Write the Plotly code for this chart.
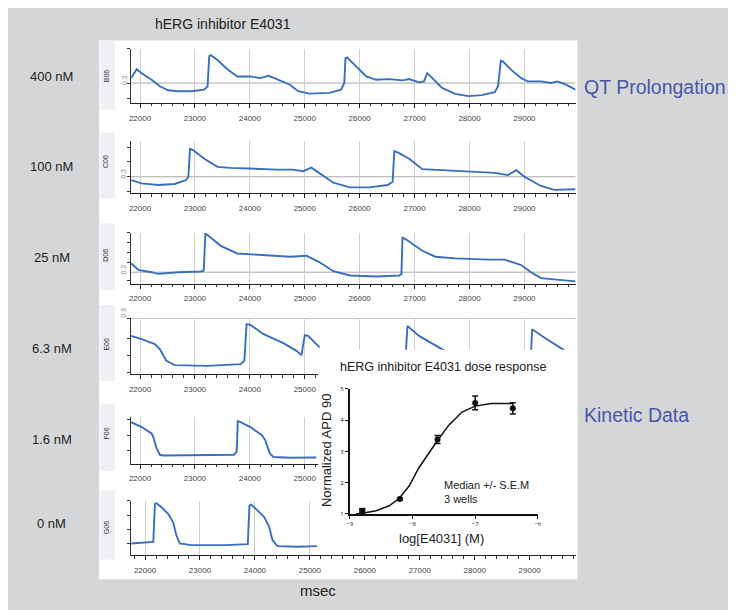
import plotly.graph_objects as go

# page body has an 8px margin; figure is sized to fill the rest of the 736x610 window
OFF = 8
W, H = 736 - OFF, 610 - OFF
def fx(p): return (p - OFF) / W
def fy(p): return 1 - (p - OFF) / H

# ---------------- data ----------------
well_labels = ["B06", "C06", "D06", "E06", "F06", "G06"]
conc_labels = ["400 nM", "100 nM", "25 nM", "6.3 nM", "1.6 nM", "0 nM"]
ref_values = [0.3, 0.3, 0.2, 0.3, None, None]
ref_texts = ["0.3", "0.3", "0.2", "0.3", None, None]
time_ticks = [22000, 23000, 24000, 25000, 26000, 27000, 28000, 29000]
time_labels_full = ["22000", "23000", "24000", "25000", "26000", "27000", "28000", "29000"]
time_labels_short = ["22000", "23000", "24000", "25000", "", "", "", ""]

b06 = [(21838, 0.35), (21910, 0.417), (21940, 0.44), (22030, 0.40), (22210, 0.333), (22360, 0.267),
       (22510, 0.227), (22690, 0.217), (22930, 0.217), (23170, 0.233), (23230, 0.267), (23260, 0.573),
       (23290, 0.583), (23410, 0.533), (23590, 0.44), (23770, 0.367), (24010, 0.367), (24190, 0.35),
       (24340, 0.373), (24490, 0.34), (24730, 0.283), (24880, 0.217), (25090, 0.193), (25450, 0.20),
       (25660, 0.233), (25720, 0.30), (25740, 0.55), (25770, 0.56), (25940, 0.467), (26120, 0.367),
       (26300, 0.333), (26540, 0.34), (26780, 0.327), (26900, 0.34), (27080, 0.307), (27170, 0.317),
       (27230, 0.40), (27290, 0.367), (27500, 0.25), (27740, 0.19), (27980, 0.167), (28220, 0.177),
       (28460, 0.207), (28520, 0.267), (28570, 0.527), (28610, 0.517), (28760, 0.433), (28940, 0.35),
       (29060, 0.317), (29300, 0.317), (29480, 0.30), (29600, 0.317), (29720, 0.293), (29930, 0.233)]
c06 = [(21838, 0.267), (22030, 0.233), (22330, 0.217), (22630, 0.227), (22840, 0.267), (22880, 0.30),
       (22910, 0.583), (22960, 0.573), (23170, 0.483), (23410, 0.40), (23650, 0.39), (24010, 0.38),
       (24490, 0.373), (24790, 0.373), (24970, 0.357), (25120, 0.393), (25270, 0.333), (25520, 0.24),
       (25820, 0.193), (26180, 0.193), (26510, 0.217), (26600, 0.25), (26630, 0.56), (26720, 0.54),
       (26900, 0.483), (27140, 0.377), (27500, 0.367), (28040, 0.35), (28460, 0.34), (28700, 0.317),
       (28850, 0.367), (29000, 0.30), (29300, 0.207), (29540, 0.167), (29930, 0.173)]
d06 = [(21838, 0.29), (21970, 0.223), (22210, 0.20), (22330, 0.183), (22690, 0.20), (23110, 0.207),
       (23160, 0.217), (23190, 0.59), (23230, 0.577), (23470, 0.467), (23770, 0.39), (24130, 0.377),
       (24730, 0.357), (25030, 0.367), (25270, 0.30), (25520, 0.21), (25820, 0.167), (26300, 0.157),
       (26720, 0.167), (26760, 0.183), (26780, 0.55), (26840, 0.533), (27140, 0.417), (27380, 0.357),
       (27740, 0.34), (28340, 0.327), (28640, 0.327), (28940, 0.273), (29120, 0.20), (29300, 0.14),
       (29660, 0.117), (29930, 0.107)]
e06 = [(21838, 0.123), (22030, 0.09), (22270, 0.04), (22360, -0.01), (22480, -0.127), (22630, -0.17),
       (23230, -0.177), (23830, -0.16), (23900, -0.127), (23940, 0.24), (24010, 0.233), (24250, 0.14),
       (24610, 0.05), (24850, -0.027), (24940, -0.07), (25000, 0.13), (25060, 0.123), (25270, 0.007),
       (None, None),
       (26840, -0.05), (26870, 0.223), (27080, 0.123), (27320, 0.047), (27560, -0.03),
       (None, None),
       (29120, -0.05), (29140, 0.19), (29360, 0.107), (29540, 0.04), (29720, -0.02)]
f06 = [(21838, 0.423), (22030, 0.373), (22210, 0.307), (22240, 0.273), (22300, 0.157), (22360, 0.09),
       (22420, 0.083), (22930, 0.083), (23530, 0.083), (23710, 0.09), (23760, 0.123), (23780, 0.433),
       (23830, 0.423), (24010, 0.373), (24220, 0.29), (24280, 0.24), (24360, 0.107), (24430, 0.067),
       (24730, 0.06), (25210, 0.063)]
g06 = [(21747, 0.117), (21940, 0.123), (22150, 0.133), (22180, 0.517), (22210, 0.523), (22300, 0.483),
       (22420, 0.417), (22510, 0.333), (22570, 0.20), (22630, 0.117), (22840, 0.10), (23450, 0.10),
       (23870, 0.11), (23900, 0.50), (23930, 0.51), (24050, 0.45), (24170, 0.383), (24260, 0.283),
       (24320, 0.15), (24410, 0.09), (24770, 0.083), (25130, 0.09)]
traces_data = [b06, c06, d06, e06, f06, g06]

# dose response
log_conc = [-8.8, -8.2, -7.6, -7.0, -6.4]
apd90 = [1.1, 1.48, 3.38, 4.55, 4.38]
apd90_sem = [0.05, 0.04, 0.13, 0.22, 0.18]
fit_x = [-8.9, -8.8, -8.58, -8.37, -8.21, -8.05, -7.9, -7.74, -7.6, -7.42, -7.21, -7.0, -6.74, -6.41]
fit_y = [1.0, 1.02, 1.1, 1.26, 1.5, 1.9, 2.47, 2.95, 3.35, 3.84, 4.26, 4.45, 4.53, 4.53]

# ---------------- layout geometry (window pixels) ----------------
panel_px = [(45, 100), (138.3, 191.7), (231.7, 283.3), (318, 375), (418, 465.7), (503.3, 558.3)]
panel_yr = [(0.10, 0.65), (0.133, 0.667), (0.084, 0.60), (-0.26, 0.303), (0.0, 0.48), (0.0, 0.55)]
panel_ytick = [[0.14, 0.3, 0.65], [0.15, 0.3, 0.45, 0.60], [0.12, 0.3, 0.4, 0.5, 0.6],
               [-0.24, -0.07, 0.1, 0.3], [0.13, 0.29, 0.45], [0.12, 0.26, 0.4, 0.55]]
panel_xr = [(21838, 29930)] * 5 + [(21747, 29834)]
panel_ticktext = [time_labels_full] * 3 + [time_labels_short] * 2 + [time_labels_full]
strip_px = [(37, 107), (130, 197), (222, 290), (305, 382), (405, 473), (493, 563)]
label_py = [73, 165, 257, 349, 441, 526]
well_py = [73, 160, 255, 345, 435, 531]
ref_label_py = [77, 172, 269, 313, None, None]
FONT = 'Liberation Sans, Arial, sans-serif'

fig = go.Figure()
shapes, annotations = [], []
shapes.append(dict(type='rect', xref='paper', yref='paper', x0=fx(97), x1=fx(580), y0=fy(583), y1=fy(37),
                   fillcolor='white', line_width=0, layer='below'))

def ann(text, x, y, size, color='#222', xanchor='center', angle=0, family=FONT):
    return dict(text=text, x=fx(x), y=fy(y), xref='paper', yref='paper', showarrow=False,
                xanchor=xanchor, yanchor='middle', textangle=angle,
                font=dict(size=size, color=color, family=family))

layout = {}
for i in range(6):
    n = i + 1
    xs = '' if n == 1 else str(n)
    top, bot = panel_px[i]
    layout['xaxis' + xs] = dict(
        domain=[fx(129.3), fx(578)], range=list(panel_xr[i]), anchor='y' + xs,
        tickmode='array', tickvals=time_ticks, ticktext=panel_ticktext[i],
        showgrid=True, gridcolor='#d0d0d0', gridwidth=1, zeroline=False,
        showline=True, linecolor='#222', linewidth=1.3,
        ticks='outside', ticklen=4, tickcolor='#222', tickwidth=1,
        tickfont=dict(size=8, color='#444', family=FONT),
        ticklabelstandoff=3,
        minor=dict(dtick=200, tick0=0, ticks='outside', ticklen=2.5, tickcolor='#333', showgrid=False),
        fixedrange=True)
    layout['yaxis' + xs] = dict(
        domain=[fy(bot), fy(top)], range=list(panel_yr[i]), anchor='x' + xs,
        showgrid=False, zeroline=False, showline=True, linecolor='#333', linewidth=1,
        ticks='outside', ticklen=3, tickcolor='#333', tickmode='array', tickvals=panel_ytick[i],
        showticklabels=False, fixedrange=True)
    d = traces_data[i]
    fig.add_trace(go.Scatter(x=[p[0] for p in d], y=[p[1] for p in d], mode='lines',
                             line=dict(color='#3b6dc1', width=1.9), connectgaps=False,
                             xaxis='x' + xs, yaxis='y' + xs, showlegend=False, hoverinfo='skip'))
    if ref_values[i] is not None:
        shapes.append(dict(type='line', xref='x' + xs + ' domain', x0=0, x1=1, yref='y' + xs,
                           y0=ref_values[i], y1=ref_values[i], line=dict(color='#a8a8a8', width=1), layer='below'))
        annotations.append(ann(ref_texts[i], 122, ref_label_py[i], 7, color='#888', angle=-90))
    s0, s1 = strip_px[i]
    shapes.append(dict(type='rect', xref='paper', yref='paper', x0=fx(98), x1=fx(113), y0=fy(s1), y1=fy(s0),
                       fillcolor='#eef0f3', line_width=0, layer='below'))
    annotations.append(ann(well_labels[i], 104, well_py[i], 7, color='#333', angle=-90))
    annotations.append(ann(conc_labels[i], 49, label_py[i], 13, color='#1e1e1e'))

# white cover box for the inset
layout['xaxis7'] = dict(domain=[fx(318), fx(580)], range=[0, 1], anchor='y7', visible=False, fixedrange=True)
layout['yaxis7'] = dict(domain=[fy(557), fy(350)], range=[0, 1], anchor='x7', visible=False, fixedrange=True)
fig.add_trace(go.Scatter(x=[0, 1, 1, 0, 0], y=[0, 0, 1, 1, 0], fill='toself', fillcolor='white',
                         line=dict(color='white', width=0), mode='lines', xaxis='x7', yaxis='y7',
                         showlegend=False, hoverinfo='skip'))

# dose-response inset
layout['xaxis8'] = dict(domain=[fx(350), fx(540)], range=[-9, -6], anchor='y8',
                        tickmode='array', tickvals=[-9, -8, -7, -6], showgrid=False, zeroline=False,
                        showline=True, linecolor='#111', linewidth=1.5, ticks='outside', ticklen=3,
                        tickcolor='#111', tickfont=dict(size=6, color='#222'), fixedrange=True)
layout['yaxis8'] = dict(domain=[fy(516.7), fy(390)], range=[1, 5], anchor='x8',
                        tickmode='array', tickvals=[1, 2, 3, 4, 5], showgrid=False, zeroline=False,
                        showline=True, linecolor='#111', linewidth=1.5, ticks='outside', ticklen=3,
                        tickcolor='#111', tickfont=dict(size=6, color='#222'), fixedrange=True)
fig.add_trace(go.Scatter(x=fit_x, y=fit_y, mode='lines', line=dict(color='#111', width=1.5),
                         xaxis='x8', yaxis='y8', showlegend=False, hoverinfo='skip', cliponaxis=False))
fig.add_trace(go.Scatter(x=log_conc, y=apd90, mode='markers',
                         marker=dict(color='#111', size=6, symbol=['square', 'circle', 'circle', 'circle', 'circle']),
                         error_y=dict(type='data', array=apd90_sem, color='#111', thickness=1.5, width=3),
                         xaxis='x8', yaxis='y8', showlegend=False, hoverinfo='skip', cliponaxis=False))

annotations += [
    ann('hERG inhibitor E4031', 222, 20, 14),
    ann('QT Prolongation', 585, 84, 19.5, color='#4757a8', xanchor='left'),
    ann('Kinetic Data', 585, 416, 19.5, color='#4757a8', xanchor='left'),
    ann('msec', 318, 594, 15),
    ann('hERG inhibitor E4031 dose response', 444, 368, 12.5),
    ann('Normalized APD 90', 326, 452, 13, angle=-90),
    ann('log[E4031] (M)', 443, 542, 13),
    ann('Median +/- S.E.M', 443, 487, 11, xanchor='left'),
    ann('3 wells', 443, 502, 11, xanchor='left'),
]

fig.update_layout(width=W, height=H, margin=dict(l=0, r=0, t=0, b=0),
                  paper_bgcolor='#d5d6d8', plot_bgcolor='rgba(0,0,0,0)',
                  shapes=shapes, annotations=annotations, showlegend=False, **layout)
fig.write_html('out.html')
